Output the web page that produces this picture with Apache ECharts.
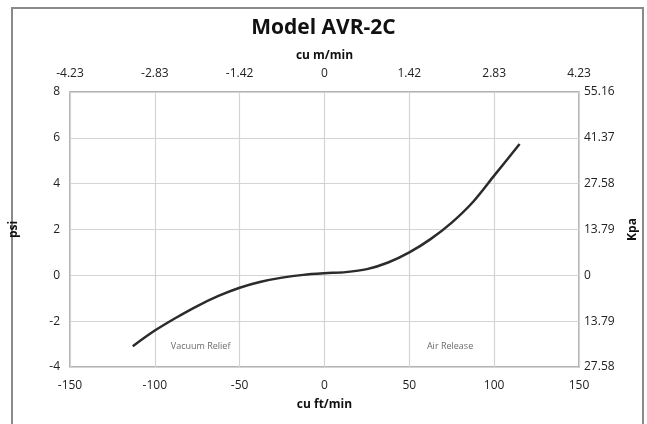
<!DOCTYPE html>
<html>
<head>
<meta charset="utf-8">
<script src="https://cdn.jsdelivr.net/npm/echarts@6/dist/echarts.min.js"></script>
<style>html,body{margin:0;padding:0;background:#fff}#c{width:647px;height:424px}</style>
</head>
<body>
<div id="c"></div>
<script>
const flowCfm = [-113, -100, -87.5, -75, -62.5, -50, -37.5, -25, -12.5, 0, 12.5, 25, 37.5, 50, 62.5, 75, 87.5, 100, 115];
const pressurePsi = [-3.09, -2.41, -1.85, -1.34, -0.90, -0.54, -0.28, -0.10, 0.02, 0.09, 0.14, 0.27, 0.56, 1.0, 1.58, 2.3, 3.2, 4.35, 5.73];
const topTickLabels = ['-4.23', '-2.83', '-1.42', '0', '1.42', '2.83', '4.23'];
const kpaTickLabels = ['27.58', '13.79', '0', '13.79', '27.58', '41.37', '55.16'];
const annotations = [{ text: 'Vacuum Relief', x: -73, y: -3.1 }, { text: 'Air Release', x: 74, y: -3.1 }];

const FONT = 'Open Sans';
const chart = echarts.init(document.getElementById('c'));
const gridCfg = { left: 68, right: 66, top: 92, bottom: 57 };
const tickStyle = { show: true, length: 5, lineStyle: { color: '#cfcfcf' } };
const splitStyle = { show: true, lineStyle: { color: '#d4d4d4', width: 1.2 } };
const lab = { color: '#222', fontSize: 12, fontFamily: FONT };
const nameStyle = { color: '#111', fontSize: 12, fontWeight: 'bold', fontFamily: FONT };

chart.setOption({
  animation: false,
  backgroundColor: '#fff',
  title: {
    text: 'Model AVR-2C', left: 'center', top: 13,
    textStyle: { fontSize: 21, fontWeight: 'bold', color: '#111', fontFamily: FONT }
  },
  grid: Object.assign({ show: true, borderColor: '#9a9a9a', borderWidth: 1.5, containLabel: false }, gridCfg),
  xAxis: [
    { type: 'value', position: 'bottom', min: -150, max: 150, interval: 50,
      name: 'cu ft/min', nameLocation: 'middle', nameGap: 32, nameTextStyle: nameStyle,
      axisLine: { show: false }, axisTick: tickStyle, splitLine: splitStyle,
      axisLabel: Object.assign({ margin: 13 }, lab) },
    { type: 'value', position: 'top', min: -150, max: 150, interval: 50,
      name: 'cu m/min', nameLocation: 'middle', nameGap: 30, nameTextStyle: nameStyle,
      axisLine: { show: false }, axisTick: { show: false }, splitLine: { show: false },
      axisLabel: Object.assign({ margin: 12, formatter: v => topTickLabels[Math.round((v + 150) / 50)] }, lab) }
  ],
  yAxis: [
    { type: 'value', position: 'left', min: -4, max: 8, interval: 2,
      name: 'psi', nameLocation: 'middle', nameGap: 50, nameRotate: 90, nameTextStyle: nameStyle,
      axisLine: { show: false }, axisTick: tickStyle, splitLine: splitStyle,
      axisLabel: Object.assign({ margin: 10 }, lab) },
    { type: 'value', position: 'right', min: -4, max: 8, interval: 2,
      name: 'Kpa', nameLocation: 'middle', nameGap: 48, nameRotate: 90, nameTextStyle: nameStyle,
      axisLine: { show: false }, axisTick: { show: false }, splitLine: { show: false },
      axisLabel: Object.assign({ margin: 5, formatter: v => kpaTickLabels[Math.round((v + 4) / 2)] }, lab) }
  ],
  series: [
    { type: 'line', xAxisIndex: 0, yAxisIndex: 0, smooth: 0.3, showSymbol: false,
      lineStyle: { color: '#2b2b2b', width: 2.5 },
      data: flowCfm.map((x, i) => [x, pressurePsi[i]]) },
    { type: 'scatter', xAxisIndex: 0, yAxisIndex: 0, symbolSize: 0, silent: true,
      label: { show: true, position: 'inside', formatter: p => p.data[2], color: '#444', fontSize: 9, fontFamily: FONT },
      data: annotations.map(a => [a.x, a.y, a.text]) }
  ],
  graphic: [
    { type: 'rect', shape: { x: 12, y: 8, width: 631, height: 430 }, silent: true, z: -1,
      style: { fill: 'none', stroke: '#8a8a8a', lineWidth: 2 } }
  ]
});
</script>
</body>
</html>
